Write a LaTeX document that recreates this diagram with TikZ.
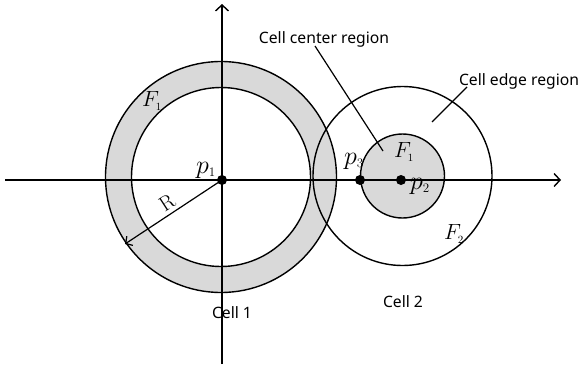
\RequirePackage{fix-cm}
\documentclass[tikz,border=0pt]{standalone}
\usepackage{fontspec}
\setsansfont{Noto Sans}
\usetikzlibrary{arrows.meta}
\definecolor{regiongray}{HTML}{D9D9D9}
\begin{document}
\begin{tikzpicture}[x=1pt,y=-1pt,line width=1.4pt,
  lbl/.style={font=\sffamily\fontsize{15.7}{16}\selectfont, inner sep=0pt, anchor=base},
  mathlbl/.style={inner sep=0pt, font=\fontsize{22}{22}\selectfont},
  plbl/.style={inner sep=0pt, font=\fontsize{26}{26}\selectfont},
  dotnode/.style={circle, fill=black, inner sep=0pt, minimum size=10pt},
  barb/.style={-{Straight Barb[length=6pt,width=13pt,line width=1.4pt]}}]
\useasboundingbox (0,0) rectangle (582,367);
% centres
\coordinate (c1) at (221,177);
\coordinate (c2) at (402.5,176);
% cell 1 annulus
\fill[regiongray, even odd rule] (c1) circle (115.5pt) (c1) circle (89.5pt);
\draw (c1) circle (115.5pt);
\draw (c1) circle (89.5pt);
% cell 2
\draw (c2) circle (89.5pt);
\filldraw[fill=regiongray] (c2) circle (42pt);
% axes
\coordinate (xs) at (5,180);
\coordinate (xe) at (561,180);
\coordinate (ys) at (222,364);
\coordinate (ye) at (222,4);
\draw[barb] (xs) -- (xe);
\draw[barb] (ys) -- (ye);
% points
\node[dotnode] (p1) at (222,180) {};
\node[dotnode] (p3) at (360,180) {};
\node[dotnode] (p2) at (401,180) {};
% radius arrow
\coordinate (rend) at (125,244);
\draw[-{Straight Barb[length=5pt,width=11pt,line width=1.2pt]}, line width=1.2pt] (p1.center) -- (rend);
\node[inner sep=0pt, font=\fontsize{21}{21}\selectfont, rotate=33] (rl) at (167,203) {$\mathrm{R}$};
% math labels
\node[mathlbl] (f1a) at (152,101) {$F_{\scriptscriptstyle 1}$};
\node[plbl] (pl1) at (206,170) {$p_{\scriptscriptstyle 1}$};
\node[plbl] (pl3) at (354,161) {$p_{\scriptscriptstyle 3}$};
\node[mathlbl] (f1b) at (404,152) {$F_{\scriptscriptstyle 1}$};
\node[plbl] (pl2) at (420,186) {$p_{\scriptscriptstyle 2}$};
\node[mathlbl] (f2) at (454,234) {$F_{\scriptscriptstyle 2}$};
% text labels
\node[lbl] (center) at (324,43) {Cell center region};
\node[lbl] (edge) at (519,85) {Cell edge region};
\node[lbl] (cell1) at (232,318) {Cell 1};
\node[lbl] (cell2) at (403,307) {Cell 2};
% leader lines
\coordinate (centerend) at (383,151);
\coordinate (edgeend) at (432,122);
\draw[line width=1.2pt] ([xshift=-9pt,yshift=-3pt]center.base) -- (centerend);
\draw[line width=1.2pt] ([xshift=-52pt,yshift=-2pt]edge.base) -- (edgeend);
\end{tikzpicture}
\end{document}
